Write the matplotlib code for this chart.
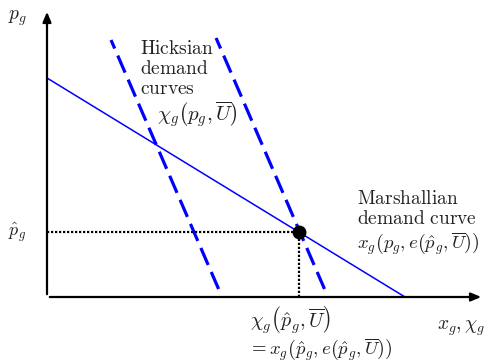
import matplotlib
matplotlib.use("Agg")
import matplotlib.pyplot as plt
import numpy as np

plt.rcParams['mathtext.fontset'] = 'cm'
plt.rcParams['font.family'] = 'serif'

# Marshallian demand: straight line between the two intercepts
marsh_p_int = 5.475
marsh_x_int = 8.97
# compensated price and the two Hicksian curves (x = x0 - s*p)
p_hat = 1.625
hicks_slope = 0.433
hicks_x0 = [4.386, 7.04]
hicks_p_top = [6.425, 6.475]

x_hat = marsh_x_int * (1 - p_hat / marsh_p_int)

fig = plt.figure(figsize=(4.86, 3.64), dpi=100)
ax = fig.add_axes([47/486, 67/364, 439/486, 297/364])
ax.set_xlim(0, 11)
ax.set_ylim(0, 7.425)
ax.axis('off')

# axes with arrow heads
ax.annotate('', xy=(10.95, 0), xytext=(0, 0), xycoords='data',
            arrowprops=dict(arrowstyle='-|>,head_length=0.6,head_width=0.25', lw=1.6, color='black'),
            annotation_clip=False)
ax.annotate('', xy=(0, 7.2), xytext=(0, 0),
            arrowprops=dict(arrowstyle='-|>,head_length=0.6,head_width=0.25', lw=1.6, color='black'),
            annotation_clip=False)

# Marshallian demand
xm = np.array([0, marsh_x_int])
pm = marsh_p_int * (1 - xm / marsh_x_int)
ax.plot(xm, pm, color='#0000ff', lw=1.1, solid_capstyle='butt')

# Hicksian demand curves
for x0, ptop in zip(hicks_x0, hicks_p_top):
    p = np.array([0.2, ptop])
    ax.plot(x0 - hicks_slope * p, p, color='#0000ff', lw=2.3,
            dashes=(5.8, 2.4), dash_capstyle='butt')

# dotted guides and the equilibrium point
ax.plot([0, x_hat], [p_hat, p_hat], color='black', lw=1.6, ls=(0, (1, 0.8)))
ax.plot([x_hat, x_hat], [0, p_hat], color='black', lw=1.6, ls=(0, (1, 0.8)))
ax.plot([x_hat], [p_hat], 'o', color='black', ms=9)

tc = '#222222'
fig.text(8/486, 1 - 18/364, r'$p_g$', fontsize=14, color=tc, va='center')
fig.text(8/486, 1 - 232/364, r'$\hat{p}_g$', fontsize=13, color=tc, va='center')
fig.text(140/486, 1 - 49/364, r'$\mathrm{Hicksian}$', fontsize=14, color=tc, va='center')
fig.text(140/486, 1 - 69/364, r'$\mathrm{demand}$', fontsize=14, color=tc, va='center')
fig.text(140/486, 1 - 89/364, r'$\mathrm{curves}$', fontsize=14, color=tc, va='center')
fig.text(157/486, 1 - 114/364, r'$\chi_g\left(p_g,\overline{U}\right)$', fontsize=15, color=tc, va='center')
fig.text(357/486, 1 - 199/364, r'$\mathrm{Marshallian}$', fontsize=14, color=tc, va='center')
fig.text(357/486, 1 - 219/364, r'$\mathrm{demand\ curve}$', fontsize=14, color=tc, va='center')
fig.text(357/486, 1 - 244/364, r'$x_g\left(p_g,e\left(\hat{p}_g,\overline{U}\right)\right)$', fontsize=13.5, color=tc, va='center')
fig.text(250/486, 1 - 320/364, r'$\chi_g\left(\hat{p}_g,\overline{U}\right)$', fontsize=14.5, color=tc, va='center')
fig.text(248/486, 1 - 350/364, r'$=x_g\left(\hat{p}_g,e\left(\hat{p}_g,\overline{U}\right)\right)$', fontsize=13.5, color=tc, va='center')
fig.text(437/486, 1 - 328/364, r'$x_g,\chi_g$', fontsize=14, color=tc, va='center')

fig.savefig('out.png', dpi=100)
